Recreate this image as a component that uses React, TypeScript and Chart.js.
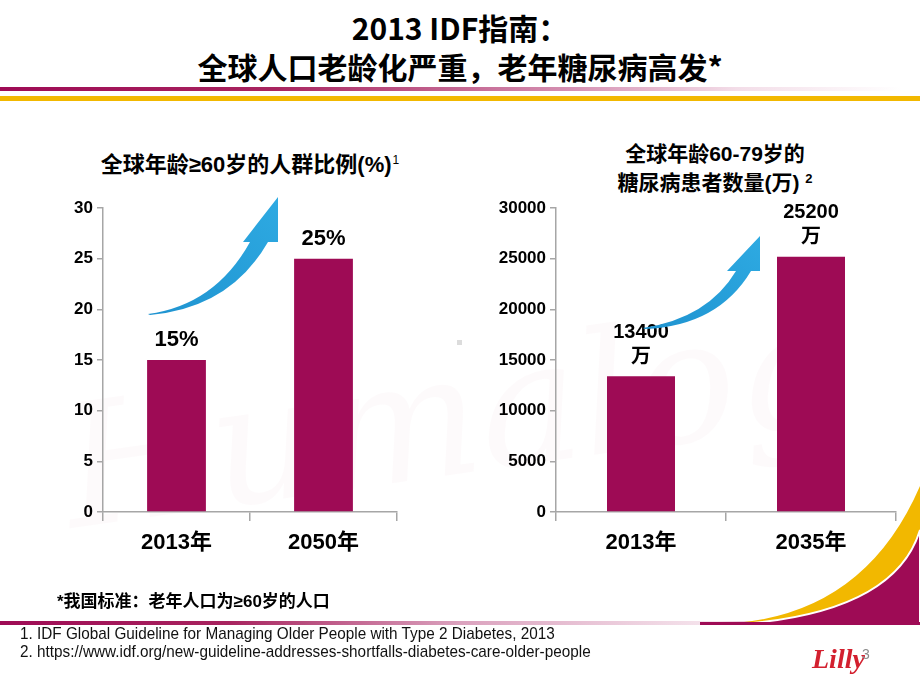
import React, { useEffect, useRef } from "react";
import { Chart, registerables } from "chart.js";

Chart.register(...registerables);

// ---------- data ----------
const leftCategories = ["2013年", "2050年"];
const leftValues = [15, 25];
const leftValueLabels = [["15%"], ["25%"]];
const leftMax = 30;
const leftStep = 5;

const rightCategories = ["2013年", "2035年"];
const rightValues = [13400, 25200];
const rightValueLabels = [["13400", "万"], ["25200", "万"]];
const rightMax = 30000;
const rightStep = 5000;

const titleLines = ["2013 IDF指南：", "全球人口老龄化严重，老年糖尿病高发*"];
const leftSubtitle = "全球年龄≥60岁的人群比例(%)";
const rightSubtitle1 = "全球年龄60-79岁的";
const rightSubtitle2 = "糖尿病患者数量(万)";
const footNote = "*我国标准：老年人口为≥60岁的人口";
const references = [
  "1. IDF Global Guideline for Managing Older People with Type 2 Diabetes, 2013",
  "2. https://www.idf.org/new-guideline-addresses-shortfalls-diabetes-care-older-people",
];

const FONT = '"Liberation Sans", "Noto Sans CJK SC", sans-serif';
const BAR = "#9e0b55";
const AXIS = "#a6a6a6";

const valueLabelPlugin = {
  id: "valueLabels",
  afterDatasetsDraw(chart: any, _args: any, opts: any) {
    const { ctx } = chart;
    const meta = chart.getDatasetMeta(0);
    ctx.save();
    ctx.font = `bold ${opts.size}px ${FONT}`;
    ctx.fillStyle = "#000";
    ctx.textAlign = "center";
    ctx.textBaseline = "middle";
    meta.data.forEach((bar: any, i: number) => {
      const lines: string[] = opts.labels[i];
      lines.forEach((line, j) => {
        const y = bar.y - opts.gap - (lines.length - 1 - j) * opts.lineHeight;
        ctx.fillText(line, bar.x, y);
      });
    });
    ctx.restore();
  },
};

function makeChart(
  canvas: HTMLCanvasElement,
  cfg: {
    categories: string[];
    values: number[];
    labels: string[][];
    max: number;
    step: number;
    yWidth: number;
    padRight: number;
    labelSize: number;
    gap: number;
    lineHeight: number;
  }
) {
  return new Chart(canvas, {
    type: "bar",
    data: {
      labels: cfg.categories,
      datasets: [
        {
          data: cfg.values,
          backgroundColor: BAR,
          borderWidth: 0,
          categoryPercentage: 1,
          barPercentage: 0.4,
        },
      ],
    },
    options: {
      responsive: false,
      animation: false,
      devicePixelRatio: 1,
      layout: { padding: { top: 18, right: cfg.padRight, left: 0, bottom: 0 } },
      plugins: {
        legend: { display: false },
        tooltip: { enabled: false },
        valueLabels: {
          labels: cfg.labels,
          size: cfg.labelSize,
          gap: cfg.gap,
          lineHeight: cfg.lineHeight,
        },
      } as any,
      scales: {
        x: {
          grid: {
            offset: true,
            drawOnChartArea: false,
            drawTicks: true,
            tickLength: 9,
            color: AXIS,
            lineWidth: 1.5,
          },
          border: { color: AXIS, width: 1.5 },
          ticks: {
            color: "#000",
            font: { family: FONT, size: 22, weight: "bold" },
            padding: 9,
          },
          afterFit: (s: any) => {
            s.height = 50;
          },
        },
        y: {
          min: 0,
          max: cfg.max,
          grid: {
            drawOnChartArea: false,
            drawTicks: true,
            tickLength: 6,
            color: AXIS,
            lineWidth: 1.5,
          },
          border: { color: AXIS, width: 1.5 },
          ticks: {
            stepSize: cfg.step,
            color: "#000",
            font: { family: FONT, size: 17, weight: "bold" },
            padding: 4,
            callback: (v: any) => String(v),
          },
          afterFit: (s: any) => {
            s.width = cfg.yWidth;
          },
        },
      },
    },
    plugins: [valueLabelPlugin],
  });
}

export default function App() {
  const leftRef = useRef<HTMLCanvasElement>(null);
  const rightRef = useRef<HTMLCanvasElement>(null);

  useEffect(() => {
    const c1 = makeChart(leftRef.current!, {
      categories: leftCategories,
      values: leftValues,
      labels: leftValueLabels,
      max: leftMax,
      step: leftStep,
      yWidth: 63,
      padRight: 13,
      labelSize: 22,
      gap: 20,
      lineHeight: 25,
    });
    const c2 = makeChart(rightRef.current!, {
      categories: rightCategories,
      values: rightValues,
      labels: rightValueLabels,
      max: rightMax,
      step: rightStep,
      yWidth: 76,
      padRight: 14,
      labelSize: 20,
      gap: 19,
      lineHeight: 25,
    });
    return () => {
      c1.destroy();
      c2.destroy();
    };
  }, []);

  const abs = (o: any): React.CSSProperties => ({ position: "absolute", ...o });

  return (
    <div
      style={{
        position: "fixed",
        left: 0,
        top: 0,
        width: 920,
        height: 690,
        background: "#fff",
        overflow: "hidden",
        fontFamily: FONT,
        color: "#000",
      }}
    >
      {/* faint watermark */}
      <div
        style={abs({
          left: 60,
          top: 330,
          fontFamily: '"DejaVu Serif", serif',
          fontStyle: "italic",
          fontWeight: 300,
          fontSize: 170,
          color: "rgba(200,130,150,0.04)",
          transform: "rotate(-8deg)",
          whiteSpace: "nowrap",
          lineHeight: 1,
        })}
      >
        Humalog
      </div>

      {/* title */}
      <div
        style={abs({
          left: 0,
          width: 920,
          top: 8,
          textAlign: "center",
          fontFamily: '"Noto Sans CJK SC", sans-serif',
          fontWeight: 700,
          fontSize: 30,
          lineHeight: "39px",
        })}
      >
        <div>{titleLines[0]}</div>
        <div>{titleLines[1]}</div>
      </div>

      {/* header lines */}
      <div
        style={abs({
          left: 0,
          top: 87,
          width: 920,
          height: 4,
          background:
            "linear-gradient(to right, #9e0b55 0%, #a8245f 30%, #d590b2 62%, #f3dde8 80%, rgba(255,255,255,0) 98%)",
        })}
      />
      <div style={abs({ left: 0, top: 96, width: 920, height: 5, background: "#f2b800" })} />

      {/* subtitles */}
      <div
        style={abs({
          left: 60,
          width: 380,
          top: 150,
          textAlign: "center",
          fontWeight: 700,
          fontSize: 22,
          lineHeight: "29px",
          whiteSpace: "nowrap",
        })}
      >
        {leftSubtitle}
        <span style={{ fontSize: 12, fontWeight: 400, position: "relative", top: -8, marginLeft: 1 }}>1</span>
      </div>
      <div
        style={abs({
          left: 520,
          width: 390,
          top: 139,
          textAlign: "center",
          fontWeight: 700,
          fontSize: 21,
          lineHeight: "29px",
          whiteSpace: "nowrap",
        })}
      >
        <div>{rightSubtitle1}</div>
        <div>
          {rightSubtitle2}{" "}
          <span style={{ fontSize: 13, fontWeight: 700, position: "relative", top: -7 }}>2</span>
        </div>
      </div>

      {/* charts */}
      <canvas
        ref={leftRef}
        width={370}
        height={372}
        style={abs({ left: 40, top: 190, width: 370, height: 372 })}
      />
      <canvas
        ref={rightRef}
        width={430}
        height={372}
        style={abs({ left: 480, top: 190, width: 430, height: 372 })}
      />

      <div style={abs({ left: 457, top: 340, width: 5, height: 5, background: "#dcdcdc" })} />

      {/* decorative arrows + swoosh */}
      <svg
        width={920}
        height={690}
        style={abs({ left: 0, top: 0, pointerEvents: "none" })}
      >
        <defs>
          <linearGradient id="arr" x1="0" y1="1" x2="1" y2="0">
            <stop offset="0" stopColor="#1f93d0" />
            <stop offset="1" stopColor="#2eaae2" />
          </linearGradient>
          <linearGradient id="bl" x1="0" y1="0" x2="1" y2="0">
            <stop offset="0" stopColor="#9e0b55" />
            <stop offset="0.25" stopColor="#a8245f" />
            <stop offset="0.5" stopColor="#dba2be" />
            <stop offset="0.78" stopColor="#f6e6ee" />
            <stop offset="1" stopColor="#9e0b55" />
          </linearGradient>
        </defs>
        <path
          d="M148 314 Q215 305 250 242 L243 242 L278 197 L278 242 L268 242 Q230 308 150 315 Z"
          fill="url(#arr)"
        />
        <path
          d="M643 328 Q708 318 736 271 L727 271 L760 236 L760 271 L751 271 Q718 326 645 329 Z"
          fill="url(#arr)"
        />
        <rect x={0} y={621} width={920} height={4} fill="url(#bl)" />
        <path d="M708 624 Q860 625 920 486 L920 625 Z" fill="#f2b800" />
        <path d="M742 624 Q895 612 920 530 L920 625 Z" fill="#9e0b55" stroke="#fff" strokeWidth={2} />
        <rect x={700} y={622} width={220} height={3} fill="#9e0b55" />
      </svg>

      {/* footnotes */}
      <div
        style={abs({ left: 57, top: 587, fontWeight: 700, fontSize: 17, whiteSpace: "nowrap" })}
      >
        {footNote}
      </div>
      <div
        style={abs({
          left: 20,
          top: 625,
          fontFamily: FONT,
          fontSize: 17,
          lineHeight: "18px",
          color: "#111",
          whiteSpace: "nowrap",
          transform: "scaleX(0.9)",
          transformOrigin: "left top",
        })}
      >
        <div>{references[0]}</div>
        <div>{references[1]}</div>
      </div>

      {/* logo */}
      <div
        style={abs({
          left: 812,
          top: 645,
          fontFamily: '"Liberation Serif", serif',
          fontStyle: "italic",
          fontWeight: 700,
          fontSize: 28,
          color: "#d3202f",
          lineHeight: 1,
        })}
      >
        Lilly
      </div>
      <div style={abs({ left: 862, top: 646, fontSize: 14, color: "#8a8a8a" })}>3</div>
    </div>
  );
}
